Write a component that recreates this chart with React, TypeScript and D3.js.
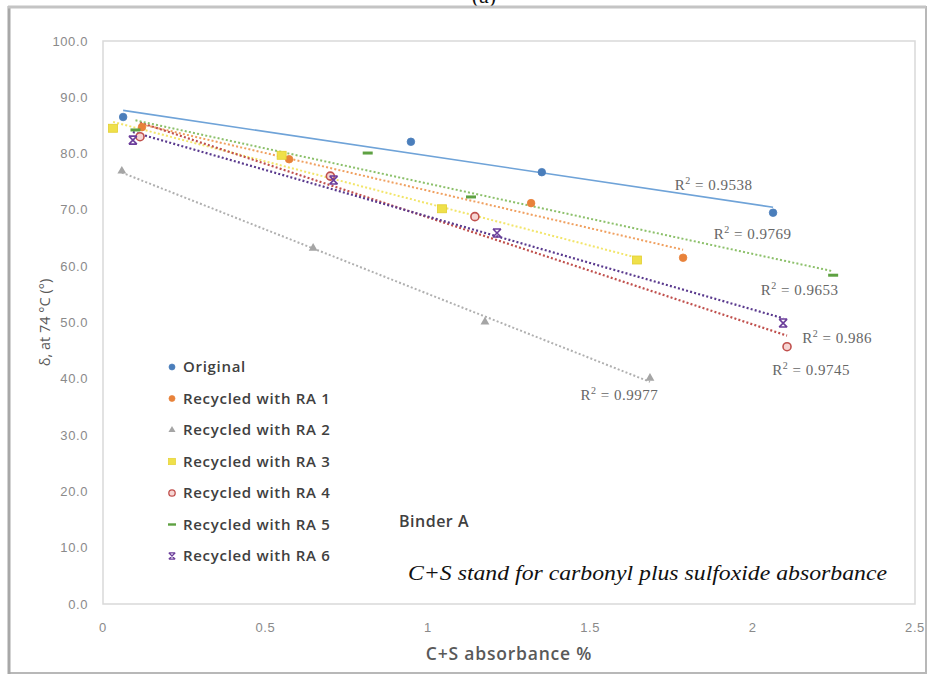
import React from "react";
import * as d3 from "d3";

// δ at 74 °C versus C+S absorbance for binder A, original and recycled with RA 1–6
const seriesNames = [
  "Original",
  "Recycled with RA 1",
  "Recycled with RA 2",
  "Recycled with RA 3",
  "Recycled with RA 4",
  "Recycled with RA 5",
  "Recycled with RA 6",
];
const seriesColors = ["#4a7ebb", "#e8823a", "#a5a5a5", "#efe04a", "#c0504d", "#5ea142", "#6b3d9a"];
const lineColors = ["#6fa3d8", "#f0a060", "#b0b0b0", "#f2e56a", "#c0504d", "#8cc06a", "#5a3a8e"];
const markerKinds = ["circle", "circle", "triangle", "square", "ring", "dash", "star"];

const absOriginal = [0.062, 0.948, 1.351, 2.063];
const deltaOriginal = [86.5, 82.1, 76.7, 69.5];
const absRA1 = [0.12, 0.573, 1.318, 1.786];
const deltaRA1 = [84.7, 79.0, 71.2, 61.5];
const absRA2 = [0.058, 0.647, 1.176, 1.684];
const deltaRA2 = [76.9, 63.2, 50.1, 40.1];
const absRA3 = [0.031, 0.55, 1.044, 1.644];
const deltaRA3 = [84.5, 79.7, 70.2, 61.1];
const absRA4 = [0.114, 0.7, 1.145, 2.106];
const deltaRA4 = [83.0, 76.0, 68.8, 45.7];
const absRA5 = [0.1, 0.815, 1.133, 2.248];
const deltaRA5 = [84.2, 80.1, 72.3, 58.4];
const absRA6 = [0.092, 0.71, 1.213, 2.094];
const deltaRA6 = [82.4, 75.3, 65.9, 49.9];

const absValues = [absOriginal, absRA1, absRA2, absRA3, absRA4, absRA5, absRA6];
const deltaValues = [deltaOriginal, deltaRA1, deltaRA2, deltaRA3, deltaRA4, deltaRA5, deltaRA6];

// R² of each linear trendline (RA 3 has none shown), with label anchor in data units
const r2Labels = ["0.9538", "0.9769", "0.9977", "", "0.9745", "0.9653", "0.986"];
const r2AnchorX = [1.88, 2.0, 1.59, 0, 2.18, 2.145, 2.26];
const r2AnchorY = [74.4, 65.8, 37.2, 0, 41.6, 55.9, 47.3];

const xTicks = [0, 0.5, 1, 1.5, 2, 2.5];
const yTicks = [0, 10, 20, 30, 40, 50, 60, 70, 80, 90, 100];

const W = 942;
const H = 684;
const plot = { left: 103, right: 915, top: 41, bottom: 604 };

const x = d3.scaleLinear().domain([0, 2.5]).range([plot.left, plot.right]);
const y = d3.scaleLinear().domain([0, 100]).range([plot.bottom, plot.top]);

function fit(xs: number[], ys: number[]) {
  const mx = d3.mean(xs)!;
  const my = d3.mean(ys)!;
  let sxy = 0;
  let sxx = 0;
  xs.forEach((v, i) => {
    sxy += (v - mx) * (ys[i] - my);
    sxx += (v - mx) * (v - mx);
  });
  const slope = sxy / sxx;
  return { slope, intercept: my - slope * mx };
}

function Marker({ kind, cx, cy, color }: { kind: string; cx: number; cy: number; color: string }) {
  switch (kind) {
    case "circle":
      return <circle cx={cx} cy={cy} r={3.8} fill={color} stroke={color} strokeWidth={0.8} />;
    case "triangle":
      return (
        <path
          d={d3.symbol().type(d3.symbolTriangle).size(34)()!}
          transform={`translate(${cx},${cy})`}
          fill={color}
        />
      );
    case "square":
      return <rect x={cx - 4.5} y={cy - 4} width={9} height={8} fill={color} stroke="#e3cf30" strokeWidth={0.8} />;
    case "ring":
      return <circle cx={cx} cy={cy} r={4} fill="#f6d5d3" stroke={color} strokeWidth={1.6} />;
    case "dash":
      return <rect x={cx - 5} y={cy - 1.5} width={10} height={3} fill={color} />;
    case "star":
      return (
        <path
          d={`M${cx - 4},${cy - 4}L${cx + 4},${cy + 4}M${cx + 4},${cy - 4}L${cx - 4},${cy + 4}M${cx - 4},${cy - 4}H${cx + 4}M${cx - 4},${cy + 4}H${cx + 4}`}
          stroke={color}
          strokeWidth={1.6}
          fill="none"
        />
      );
    default:
      return null;
  }
}

export default function App() {
  const tickFont = "'Liberation Sans Narrow', 'Liberation Sans', Arial, sans-serif";
  const uiFont = "'Open Sans', 'Noto Sans', sans-serif";

  const trends = absValues.map((xs, i) => {
    const { slope, intercept } = fit(xs, deltaValues[i]);
    const x0 = d3.min(xs)!;
    const x1 = d3.max(xs)!;
    return { x0, x1, y0: intercept + slope * x0, y1: intercept + slope * x1 };
  });

  const legendX = 172;
  const legendY0 = 367;
  const legendStep = 31.5;

  return (
    <svg
      width={W}
      height={H}
      style={{ position: "absolute", left: 0, top: 0, background: "#fff" }}
      xmlns="http://www.w3.org/2000/svg"
    >
      {/* panel caption, partly hidden above the frame */}
      <text x={484} y={3} textAnchor="middle" fontFamily="'Liberation Serif', serif" fontSize={22} fill="#111">
        (a)
      </text>

      {/* chart frame */}
      <rect x={9} y={7} width={917} height={666} fill="#fff" stroke="#b8b8b8" strokeWidth={2} />
      <line x1={9} y1={6} x2={9} y2={674} stroke="#a8a8a8" strokeWidth={3} />
      <line x1={8} y1={7} x2={926} y2={7} stroke="#c4c4c4" strokeWidth={3} />

      {/* plot area */}
      <rect
        x={plot.left}
        y={plot.top}
        width={plot.right - plot.left}
        height={plot.bottom - plot.top}
        fill="#fff"
        stroke="#d9d9d9"
        strokeWidth={1.5}
      />

      {/* y tick labels */}
      {yTicks.map((t) => (
        <text
          key={`y${t}`}
          x={88}
          y={y(t)}
          dy="0.35em"
          textAnchor="end"
          fontFamily={tickFont}
          fontSize={13}
          letterSpacing={0.6}
          fill="#8a8a8a"
        >
          {t.toFixed(1)}
        </text>
      ))}

      {/* x tick labels */}
      {xTicks.map((t) => (
        <text
          key={`x${t}`}
          x={x(t)}
          y={627}
          dy="0.35em"
          textAnchor="middle"
          fontFamily={tickFont}
          fontSize={13}
          letterSpacing={0.6}
          fill="#8a8a8a"
        >
          {String(t)}
        </text>
      ))}

      {/* axis titles */}
      <text
        x={(plot.left + plot.right) / 2}
        y={654}
        dy="0.35em"
        textAnchor="middle"
        fontFamily={uiFont}
        fontWeight={600}
        fontSize={17.5}
        letterSpacing={0.8}
        fill="#595959"
      >
        C+S absorbance %
      </text>
      <text
        transform={`translate(45,${(plot.top + plot.bottom) / 2}) rotate(-90)`}
        textAnchor="middle"
        dy="0.35em"
        fontFamily={uiFont}
        fontSize={14.5}
        fill="#595959"
      >
        δ, at 74 °C (°)
      </text>

      {/* linear trendlines */}
      {trends.map((t, i) => (
        <line
          key={`t${i}`}
          x1={x(t.x0)}
          y1={y(t.y0)}
          x2={x(t.x1)}
          y2={y(t.y1)}
          stroke={lineColors[i]}
          strokeWidth={i === 0 ? 1.6 : i === 4 || i === 6 ? 2.2 : 2}
          strokeDasharray={i === 0 ? undefined : "2,2.2"}
        />
      ))}

      {/* data points */}
      {absValues.map((xs, i) =>
        xs.map((v, j) => (
          <Marker key={`m${i}-${j}`} kind={markerKinds[i]} cx={x(v)} cy={y(deltaValues[i][j])} color={seriesColors[i]} />
        ))
      )}

      {/* R² labels */}
      {r2Labels.map((r, i) =>
        r ? (
          <text
            key={`r${i}`}
            x={x(r2AnchorX[i])}
            y={y(r2AnchorY[i])}
            dy="0.35em"
            textAnchor="middle"
            fontFamily="'Liberation Serif', serif"
            fontSize={15}
            letterSpacing={0.5}
            fill="#666"
          >
            R<tspan dy="-6" fontSize={10}>2</tspan>
            <tspan dy="6"> = {r}</tspan>
          </text>
        ) : null
      )}

      {/* legend */}
      {seriesNames.map((name, i) => {
        const ly = legendY0 + i * legendStep;
        return (
          <g key={`l${i}`}>
            <g transform={`translate(${legendX},${ly}) scale(0.8) translate(${-legendX},${-ly})`}>
              <Marker kind={markerKinds[i]} cx={legendX} cy={ly} color={seriesColors[i]} />
            </g>
            <text
              x={183}
              y={ly}
              dy="0.35em"
              fontFamily={uiFont}
              fontWeight={600}
              fontSize={15}
              letterSpacing={0.7}
              fill="#404040"
            >
              {name}
            </text>
          </g>
        );
      })}

      {/* annotations */}
      <text
        x={399}
        y={521}
        dy="0.35em"
        fontFamily={uiFont}
        fontWeight={600}
        fontSize={16}
        letterSpacing={0.5}
        fill="#404040"
      >
        Binder A
      </text>
      <text
        x={408}
        y={580}
        fontFamily="'Liberation Serif', 'Times New Roman', serif"
        fontStyle="italic"
        fontSize={22}
        textLength={479}
        lengthAdjust="spacingAndGlyphs"
        fill="#111"
      >
        C+S stand for carbonyl plus sulfoxide absorbance
      </text>
    </svg>
  );
}
